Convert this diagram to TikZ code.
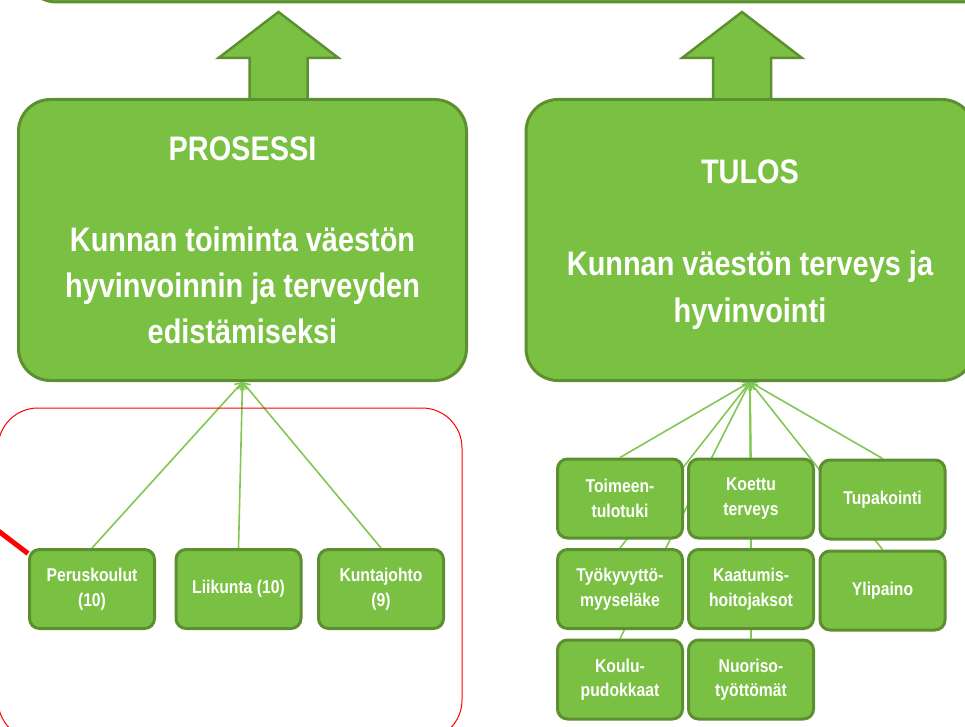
\documentclass[tikz,border=0pt]{standalone}
\usepackage{fontspec}
\setmainfont{Liberation Sans}[FakeStretch=0.85]
\usetikzlibrary{backgrounds,arrows.meta}
\definecolor{boxgreen}{HTML}{7AC143}
\definecolor{edgegreen}{HTML}{5C8F30}
\definecolor{linkgreen}{HTML}{82C653}
\tikzset{
  bigbox/.style={draw=edgegreen, fill=boxgreen, line width=3pt, rounded corners=32pt,
    minimum width=448pt, minimum height=281pt, inner sep=0pt, align=center,
    text=white, font=\fontsize{34}{46}\selectfont\bfseries},
  bigtext/.style={text=white, align=center, inner sep=0pt, font=\fontsize{34}{47}\selectfont\bfseries},
  smallbox/.style={draw=edgegreen, fill=boxgreen, line width=3pt, rounded corners=10pt,
    minimum width=125pt, minimum height=79pt, inner sep=0pt, align=center,
    text=white, font=\fontsize{18.5}{24.5}\selectfont\bfseries},
  link/.style={draw=linkgreen, line width=1.6pt, -{Straight Barb[length=6pt,width=9pt]}},
  bigarrow/.style={draw=edgegreen, fill=boxgreen, line width=2.5pt, line join=miter}
}

\begin{document}
\begin{tikzpicture}[x=1pt, y=-1pt]
\useasboundingbox (0,0) rectangle (965,727);
\clip (0,0) rectangle (965,727);
\node[bigbox, anchor=south west, minimum width=1100pt, minimum height=100pt] (tavoite) at (23,3.5) {};
\node[bigbox] (pros) at (242.5,240) {PROSESSI\\[45pt]Kunnan toiminta väestön\\hyvinvoinnin ja terveyden\\edistämiseksi};
\node[bigbox] (tulos) at (750,240) {};
\node[bigtext] (tulosteksti) at ([yshift=-5pt]tulos.center) {TULOS\\[45pt]Kunnan väestön terveys ja\\hyvinvointi};
\draw[bigarrow] ([xshift=7pt]pros.north) -- ++(0,-40) -- ++(-31,0) -- ++(60,-46)
  -- ++(60,46) -- ++(-31,0) -- ++(0,40);
\draw[bigarrow] ([xshift=-37pt]tulos.north) -- ++(0,-40) -- ++(-31,0) -- ++(60,-46)
  -- ++(60,46) -- ++(-31,0) -- ++(0,40);

\draw[red, line width=1pt, rounded corners=40pt] (-2,408) rectangle (462,740);

\node[smallbox] (peru) at (92,589) {Peruskoulut\\(10)};
\node[smallbox] (liik) at (238.5,589) {Liikunta (10)};
\node[smallbox] (kunta) at (381,589) {Kuntajohto\\(9)};

\node[smallbox] (toim) at (620,498.5) {Toimeen-\\tulotuki};
\node[smallbox] (koet) at (751,498.5) {Koettu\\terveys};
\node[smallbox] (tupa) at (882.5,499.5) {Tupakointi};
\node[smallbox] (tyok) at (620,589) {Työkyvyttö-\\myyseläke};
\node[smallbox] (kaat) at (751,589) {Kaatumis-\\hoitojaksot};
\node[smallbox] (ylip) at (882.5,590.5) {Ylipaino};
\node[smallbox] (koul) at (620,679.5) {Koulu-\\pudokkaat};
\node[smallbox] (nuor) at (751,679.5) {Nuoriso-\\työttömät};

\coordinate (nuoli) at (-20,517);
\draw[red, line width=5pt] (nuoli) -- (peru.151);

\begin{scope}[on background layer]
\foreach \n in {peru,liik,kunta}
  \draw[link] (\n.north) -- (pros.south);
\foreach \n in {toim,koet,tupa,tyok,kaat,ylip,koul,nuor}
  \draw[link] (\n.north) -- (tulos.south);
\end{scope}
\end{tikzpicture}
\end{document}
